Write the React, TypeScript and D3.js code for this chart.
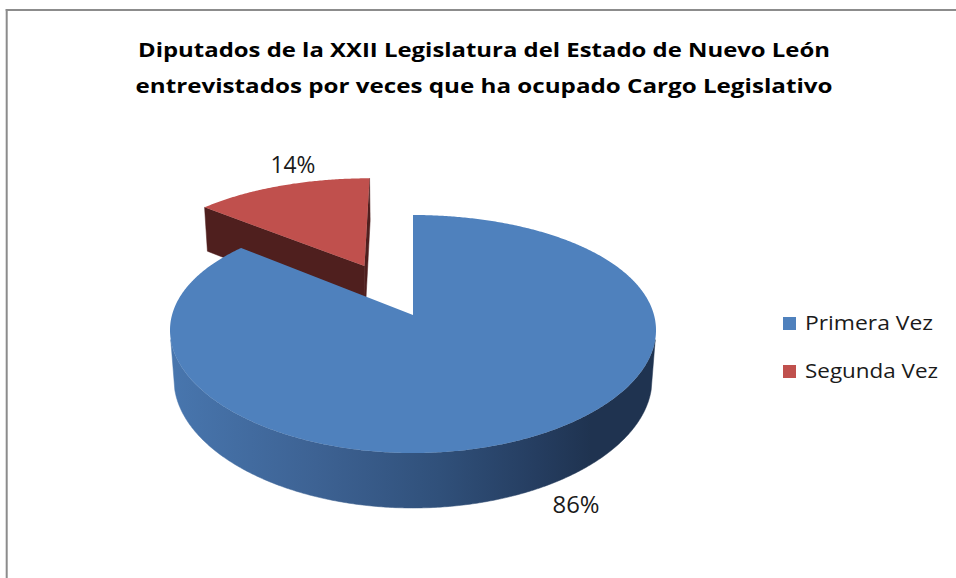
import React, { useEffect, useRef } from 'react';
import * as d3 from 'd3';

const titleLines = [
  'Diputados de la XXII Legislatura del Estado de Nuevo León',
  'entrevistados por veces que ha ocupado Cargo Legislativo',
];
const categories = ['Primera Vez', 'Segunda Vez'];
const values = [86, 14];
const explodeBy = [0, 0.5];

const topColors = ['#4F81BD', '#C0504D'];
const cutColors = ['#2C4A70', '#4F1F1E'];

// simple perspective camera for the 3d pie (radius = 1)
const cx = 413;
const cy = 315;
const sinT = 0.4794;
const cosT = 0.8776;
const camDist = 5.496;
const focal = 1329.5;
const thick = 0.2364;
const xScaleW = 241; // horizontal px per unit, weaker perspective on x
const xPersp = 0.8;

function project(x: number, y: number, z: number): [number, number] {
  const up = y * cosT - z * sinT;
  const dist = camDist - (y * sinT + z * cosT);
  return [cx + xScaleW * x * Math.pow(camDist / dist, xPersp), cy - (focal * up) / dist];
}

function App() {
  const svgRef = useRef<SVGSVGElement>(null);

  useEffect(() => {
    const svg = d3.select(svgRef.current);
    svg.selectAll('*').remove();

    const font = "'Open Sans', sans-serif";
    const line = d3.line();
    const closed = (pts: [number, number][]) => line(pts) + 'Z';

    const defs = svg.append('defs');
    const grad = defs
      .append('linearGradient')
      .attr('id', 'sideBlue')
      .attr('gradientUnits', 'userSpaceOnUse')
      .attr('x1', 170)
      .attr('x2', 660)
      .attr('y1', 0)
      .attr('y2', 0);
    [
      [0, '#4876AE'],
      [0.3, '#3D6293'],
      [0.55, '#30507A'],
      [0.75, '#253D60'],
      [0.86, '#1F3350'],
      [1, '#1F3350'],
    ].forEach(([o, c]) => grad.append('stop').attr('offset', o as number).attr('stop-color', c as string));
    const sideFills = ['url(#sideBlue)', '#7A2E2C'];

    // chart border (top and left edges visible)
    svg.append('line').attr('x1', 5.7).attr('x2', 956).attr('y1', 10).attr('y2', 10)
      .attr('stroke', '#8C8C8C').attr('stroke-width', 2);
    svg.append('line').attr('x1', 6.7).attr('x2', 6.7).attr('y1', 9).attr('y2', 578)
      .attr('stroke', '#8C8C8C').attr('stroke-width', 2);

    // title
    const titleWidths = [692, 697];
    titleLines.forEach((t, i) => {
      svg.append('text')
        .attr('x', 484)
        .attr('y', 57 + i * 36)
        .attr('text-anchor', 'middle')
        .attr('font-family', font)
        .attr('font-weight', 'bold')
        .attr('font-size', 19.5)
        .attr('textLength', titleWidths[i])
        .attr('lengthAdjust', 'spacingAndGlyphs')
        .attr('fill', '#000')
        .text(t);
    });

    const arcs = d3.pie<number>().sort(null)(values);
    const camX = 0;
    const camZ = camDist * cosT;

    const slices = arcs.map((a, i) => {
      const mid = (a.startAngle + a.endAngle) / 2;
      const ex = explodeBy[i] * Math.sin(mid);
      const ez = -explodeBy[i] * Math.cos(mid);
      return { a, i, mid, ex, ez };
    });

    const pieG = svg.append('g');

    // far slices first
    slices
      .slice()
      .sort((p, q) => p.ez - q.ez)
      .forEach(({ a, i, ex, ez }) => {
        const rim = (t: number, y: number) => project(ex + Math.sin(t), y, ez - Math.cos(t));
        const ctrTop = project(ex, 0, ez);
        const ctrBot = project(ex, -thick, ez);
        const a0 = a.startAngle;
        const a1 = a.endAngle;
        const n = Math.max(4, Math.ceil(((a1 - a0) * 180) / Math.PI / 0.5));
        const ts = d3.range(n + 1).map((k) => a0 + ((a1 - a0) * k) / n);

        // cut faces
        const cuts: [number, number, number][] = [
          [a0, -Math.cos(a0), -Math.sin(a0)],
          [a1, Math.cos(a1), Math.sin(a1)],
        ];
        cuts.forEach(([t, nx, nz]) => {
          const dot = (camX - ex) * nx + (camZ - ez) * nz;
          if (dot <= 0.001) return;
          pieG.append('path')
            .attr('d', closed([ctrTop, rim(t, 0), rim(t, -thick), ctrBot]))
            .attr('fill', cutColors[i])
            .attr('stroke', cutColors[i])
            .attr('stroke-width', 0.5);
        });

        // outer side, only the parts facing the camera
        const visible = ts.slice(0, -1).map((t, k) => {
          const tm = (t + ts[k + 1]) / 2;
          const px = ex + Math.sin(tm);
          const pz = ez - Math.cos(tm);
          return (camX - px) * Math.sin(tm) + (camZ - pz) * -Math.cos(tm) > 0;
        });
        let k = 0;
        while (k < visible.length) {
          if (!visible[k]) { k++; continue; }
          let e = k;
          while (e < visible.length && visible[e]) e++;
          const run = ts.slice(k, e + 1);
          const pts = run.map((t) => rim(t, 0)).concat(run.slice().reverse().map((t) => rim(t, -thick)));
          pieG.append('path')
            .attr('d', closed(pts))
            .attr('fill', sideFills[i])
            .attr('stroke', sideFills[i])
            .attr('stroke-width', 0.5);
          k = e;
        }

        // top face
        const topPts = [ctrTop].concat(ts.map((t) => rim(t, 0)));
        pieG.append('path')
          .attr('d', closed(topPts))
          .attr('fill', topColors[i]);
      });

    // data labels
    const total = d3.sum(values);
    const pct = d3.format('.0%');
    const labelNudge = [[49, 21], [11.5, -12.6]];
    const labelWidths = [47, 45];
    slices.forEach(({ i, mid, ex, ez }) => {
      const front = Math.cos(mid) < 0;
      const p = project(ex + Math.sin(mid), front ? -thick : 0, ez - Math.cos(mid));
      svg.append('text')
        .attr('x', p[0] + labelNudge[i][0])
        .attr('y', p[1] + labelNudge[i][1])
        .attr('text-anchor', 'middle')
        .attr('font-family', font)
        .attr('font-size', 24)
        .attr('textLength', labelWidths[i])
        .attr('lengthAdjust', 'spacingAndGlyphs')
        .attr('fill', '#1a1a1a')
        .text(pct(values[i] / total));
    });

    // legend
    const legendY = d3.scalePoint<string>().domain(categories).range([317, 365]);
    const legendWidths = [128, 133];
    const lg = svg.append('g');
    categories.forEach((c, i) => {
      const y = legendY(c) as number;
      lg.append('rect').attr('x', 783).attr('y', y).attr('width', 13).attr('height', 13).attr('fill', topColors[i]);
      lg.append('text')
        .attr('x', 805)
        .attr('y', y + 12.5)
        .attr('font-family', font)
        .attr('font-size', 19.5)
        .attr('textLength', legendWidths[i])
        .attr('lengthAdjust', 'spacingAndGlyphs')
        .attr('fill', '#1a1a1a')
        .text(c);
    });
  }, []);

  return (
    <div style={{ position: 'absolute', left: 0, top: 0 }}>
      <svg ref={svgRef} width={956} height={578} style={{ display: 'block', background: '#fff' }}></svg>
    </div>
  );
}

export default App;
